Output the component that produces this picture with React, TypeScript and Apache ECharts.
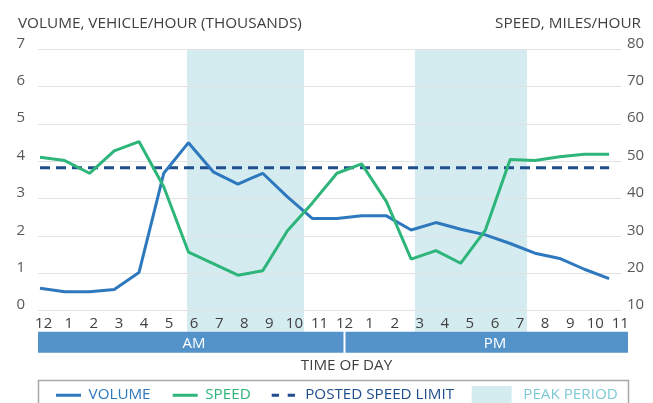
import React, { useEffect, useRef } from 'react';
import * as echarts from 'echarts';

const HOUR_LABELS = ['12', '1', '2', '3', '4', '5', '6', '7', '8', '9', '10', '11', '12', '1', '2', '3', '4', '5', '6', '7', '8', '9', '10', '11'];
const VOLUME = [0.6, 0.51, 0.51, 0.57, 1.02, 3.68, 4.5, 3.72, 3.39, 3.68, 3.05, 2.47, 2.47, 2.54, 2.54, 2.16, 2.36, 2.18, 2.03, 1.8, 1.54, 1.4, 1.11, 0.86];
const SPEED = [51.1, 50.2, 46.8, 52.8, 55.3, 43.2, 25.7, 22.6, 19.5, 20.7, 31.4, 38.8, 46.8, 49.3, 39.2, 23.8, 26.1, 22.7, 31.6, 50.5, 50.2, 51.2, 51.9, 51.9];
const POSTED_LIMIT = 48.3;
const PEAK_PERIODS = [[5.94, 10.67], [15.15, 19.68]];
const DAY_PARTS = ['AM', 'PM'];
const DAY_PART_BOUNDS = [-0.227, 12, 23.31];
const DAY_PART_CENTERS = [6, 18];
const VOLUME_TICKS = { min: 0, max: 7, interval: 1 };
const SPEED_TICKS = { min: 10, max: 80, interval: 10 };
const SHADE_FLOOR = -0.5625;

const FONT = 'Open Sans';
const BLUE = '#2E78BE';
const GREEN = '#2DB57A';
const NAVY = '#1F4E8C';
const SHADE = '#D4ECF0';
const BAR = '#5493CA';
const AXIS_TEXT = '#595959';
const TITLE_TEXT = '#404040';

const SOLID_ICON = 'path://M0,0h0.01M0,4h25v3h-25zM27.6,0h0.01';
const DASH_ICON = 'path://M0,0h0.01M0,4h7.3v3h-7.3zM16,4h7.3v3h-7.3zM28.5,0h0.01';
const PEAK_ICON = 'path://M0,0h0.01M0,10h40v24h-40zM46.6,0h0.01';

export default function App() {
  const ref = useRef<HTMLDivElement>(null);
  useEffect(() => {
    const chart = echarts.init(ref.current!, null, { renderer: 'svg' });
    const legendText = (color: string) => ({ color, fontSize: 15.2, lineHeight: 16, fontFamily: FONT });
    const titleText = { fontSize: 15.3, fontWeight: 'normal', color: TITLE_TEXT, fontFamily: FONT, lineHeight: 16 };
    const legendBase = { padding: 0, symbolKeepAspect: false, itemStyle: { borderWidth: 0 }, selectedMode: false };
    const option: any = {
      animation: false,
      textStyle: { fontFamily: FONT },
      title: [
        { text: 'VOLUME, VEHICLE/HOUR (THOUSANDS)', left: 18, top: 14, padding: 0, textStyle: titleText },
        { text: 'SPEED, MILES/HOUR', left: 641, top: 14, textAlign: 'right', padding: 0, textStyle: titleText },
        { text: 'TIME OF DAY', left: 346.5, top: 355.5, textAlign: 'center', padding: 0, textStyle: { ...titleText, fontSize: 15.2 } },
      ],
      grid: [
        { left: 38, right: 32, top: 49.3, height: 261.4 },
        { left: 43.7, right: 32.7, top: 310, height: 1 },
        { left: 38, right: 25, top: 331.7, height: 21 },
      ],
      xAxis: [
        { type: 'value', gridIndex: 0, min: -0.081, max: 23.48, show: false },
        {
          type: 'category', gridIndex: 1, data: HOUR_LABELS, boundaryGap: false,
          axisLine: { show: false }, axisTick: { show: false }, splitLine: { show: false },
          axisLabel: { interval: 0, margin: 3, fontSize: 15, color: TITLE_TEXT, fontFamily: FONT },
        },
        { type: 'value', gridIndex: 2, min: DAY_PART_BOUNDS[0], max: DAY_PART_BOUNDS[DAY_PART_BOUNDS.length - 1], show: false },
      ],
      yAxis: [
        {
          type: 'value', gridIndex: 0, ...VOLUME_TICKS, position: 'left',
          axisLine: { show: false }, axisTick: { show: false },
          axisLabel: { margin: 13, fontSize: 15, color: AXIS_TEXT, verticalAlign: 'bottom', fontFamily: FONT },
          splitLine: { lineStyle: { color: '#E2E2E2', width: 1 } },
        },
        {
          type: 'value', gridIndex: 0, ...SPEED_TICKS, position: 'right',
          axisLine: { show: false }, axisTick: { show: false },
          axisLabel: { margin: 6, fontSize: 15, color: AXIS_TEXT, verticalAlign: 'bottom', fontFamily: FONT },
          splitLine: { show: false },
        },
        { type: 'value', gridIndex: 1, show: false },
        { type: 'value', gridIndex: 2, min: 0, max: 1, show: false },
      ],
      legend: [
        { ...legendBase, data: [{ name: 'VOLUME', icon: SOLID_ICON }], left: 56, top: 385.3, itemWidth: 27.6, itemHeight: 7, textStyle: legendText(BLUE) },
        { ...legendBase, data: [{ name: 'SPEED', icon: SOLID_ICON }], left: 172.7, top: 385.3, itemWidth: 27.6, itemHeight: 7, textStyle: legendText(GREEN) },
        { ...legendBase, data: [{ name: 'POSTED SPEED LIMIT', icon: DASH_ICON }], left: 271.7, top: 385.3, itemWidth: 28.5, itemHeight: 7, textStyle: legendText(NAVY) },
        { ...legendBase, data: [{ name: 'PEAK PERIOD', icon: PEAK_ICON }], left: 471.7, top: 376, itemWidth: 46.6, itemHeight: 34, textStyle: legendText('#7ECAD5') },
      ],
      graphic: [
        { type: 'rect', silent: true, shape: { x: 38.5, y: 380.5, width: 590, height: 40 }, style: { fill: 'none', stroke: '#A8A8A8', lineWidth: 1.5 } },
      ],
      series: [
        {
          name: 'PEAK PERIOD', type: 'custom', xAxisIndex: 0, yAxisIndex: 0, z: -1,
          itemStyle: { color: SHADE },
          data: PEAK_PERIODS,
          renderItem: (params: any, api: any) => {
            const p1 = api.coord([api.value(0), VOLUME_TICKS.max]);
            const p2 = api.coord([api.value(1), SHADE_FLOOR]);
            return { type: 'rect', shape: { x: p1[0], y: p1[1], width: p2[0] - p1[0], height: p2[1] - p1[1] }, style: { fill: SHADE } };
          },
        },
        {
          name: 'dayparts', type: 'custom', xAxisIndex: 2, yAxisIndex: 3,
          data: DAY_PARTS.map((n, i) => [DAY_PART_BOUNDS[i], DAY_PART_BOUNDS[i + 1], DAY_PART_CENTERS[i]]),
          renderItem: (params: any, api: any) => {
            const i = params.dataIndex;
            const p1 = api.coord([api.value(0), 1]);
            const p2 = api.coord([api.value(1), 0]);
            const pc = api.coord([api.value(2), 0.5]);
            const x0 = p1[0] + (i > 0 ? 1 : 0);
            const x1 = p2[0] - (i < DAY_PARTS.length - 1 ? 1 : 0);
            return {
              type: 'group',
              children: [
                { type: 'rect', shape: { x: x0, y: p1[1], width: x1 - x0, height: p2[1] - p1[1] }, style: { fill: BAR } },
                { type: 'text', x: pc[0], y: pc[1], style: { text: DAY_PARTS[i], fill: '#fff', fontSize: 15, fontFamily: FONT, align: 'center', verticalAlign: 'middle' } },
              ],
            };
          },
        },
        {
          name: 'POSTED SPEED LIMIT', type: 'line', xAxisIndex: 0, yAxisIndex: 1, symbol: 'none',
          data: SPEED.map((_, i) => [i, POSTED_LIMIT]),
          lineStyle: { width: 3, color: NAVY, type: [10, 6] }, itemStyle: { color: NAVY },
        },
        {
          name: 'VOLUME', type: 'line', xAxisIndex: 0, yAxisIndex: 0, symbol: 'none',
          data: VOLUME.map((v, i) => [i, v]),
          lineStyle: { width: 3, color: BLUE }, itemStyle: { color: BLUE },
        },
        {
          name: 'SPEED', type: 'line', xAxisIndex: 0, yAxisIndex: 1, symbol: 'none',
          data: SPEED.map((v, i) => [i, v]),
          lineStyle: { width: 3, color: GREEN }, itemStyle: { color: GREEN },
        },
      ],
    };
    chart.setOption(option);
    return () => chart.dispose();
  }, []);
  return <div ref={ref} style={{ position: 'fixed', left: 0, top: 0, width: 653, height: 403 }} />;
}
